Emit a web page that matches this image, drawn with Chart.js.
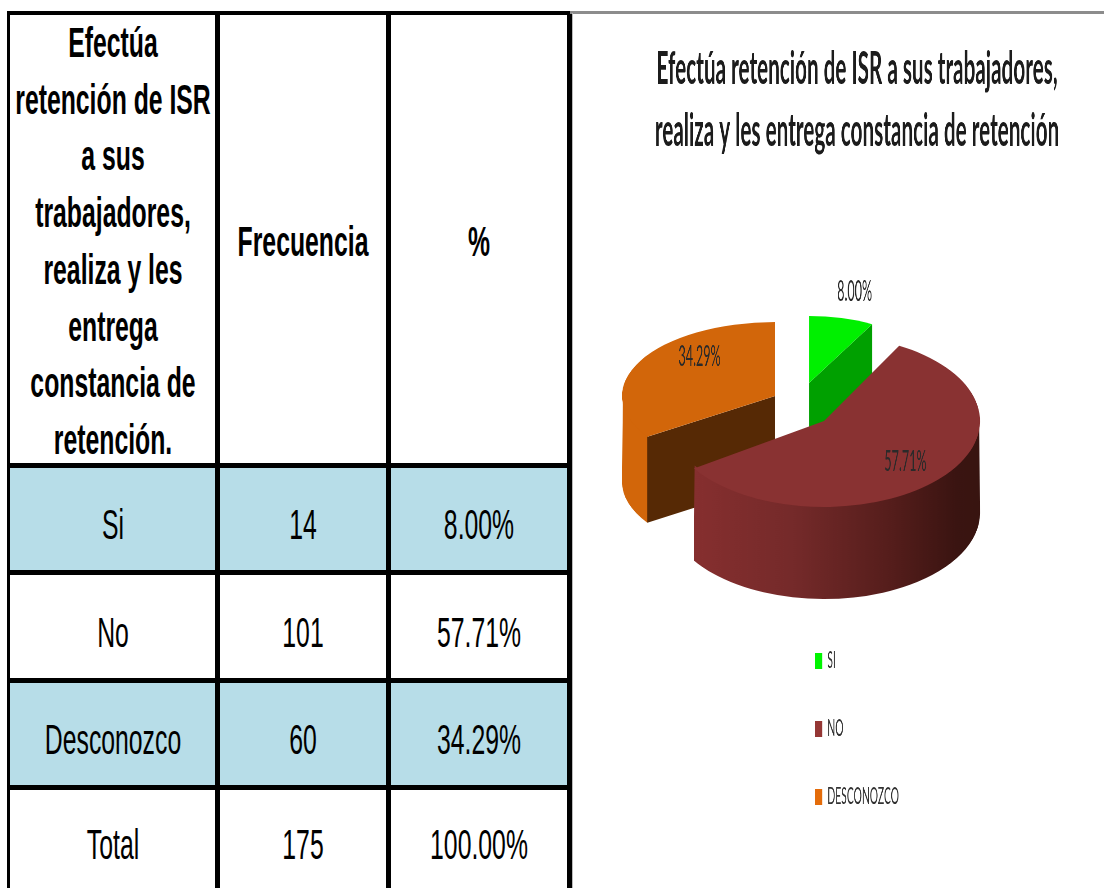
<!DOCTYPE html>
<html lang="es">
<head>
<meta charset="utf-8">
<script src="https://cdn.jsdelivr.net/npm/chart.js@4/dist/chart.umd.min.js"></script>
<style>
html,body{margin:0;padding:0;background:#fff;width:1104px;height:888px;overflow:hidden}
#tbl{position:absolute;left:7px;top:11px;border-collapse:separate;border-spacing:0;table-layout:fixed;width:565px;font-family:"Liberation Sans",Arial,sans-serif;color:#000;font-size:42px}
#tbl td{box-sizing:border-box;position:relative;border-right:5px solid #000;border-bottom:5px solid #000;padding:0}
#tbl tr:first-child td{border-top:4px solid #000;font-weight:bold}
#tbl td:first-child{border-left:3px solid #000}
#tbl tr:last-child td{border-bottom:0}
#tbl tr.blue td{background:#b7dde8}
.t{position:absolute;left:50%;top:50%;white-space:pre;text-align:center;transform:translate(-50%,-50%) scaleX(.59)}
tr.head .t{line-height:56.7px;margin-top:3px}
tr.body .t{margin-top:6px}
#rule{position:absolute;left:570px;top:11px;width:534px;height:3px;background:#8c8c8c}
#edge{position:absolute;left:572px;top:13px;width:1px;height:875px;background:#bbb}
#wrap{position:absolute;left:610px;top:0;width:1098px;height:888px;transform:scaleX(.45);transform-origin:0 0}
</style>
</head>
<body>
<table id="tbl"><colgroup><col style="width:213px"><col style="width:171px"><col style="width:181px"></colgroup><tbody id="tb"></tbody></table>
<div id="rule"></div><div id="edge"></div>
<div id="wrap"><canvas id="c" width="1098" height="888"></canvas></div>
<script>
// ---- data ----
const headerCells = ["Efectúa\nretención de ISR\na sus\ntrabajadores,\nrealiza y les\nentrega\nconstancia de\nretención.", "Frecuencia", "%"];
const tableLabels = ["Si", "No", "Desconozco", "Total"];
const tableFreq = [14, 101, 60, 175];
const tablePct = ["8.00%", "57.71%", "34.29%", "100.00%"];
const categories = ["SI", "NO", "DESCONOZCO"];
const frequencies = [14, 101, 60];
const pctLabels = ["8.00%", "57.71%", "34.29%"];
const chartTitle = ["Efectúa retención de ISR a sus trabajadores,", "realiza y les entrega constancia de retención"];

// ---- styles ----
const topColors = ["#00f000", "#893232", "#d2660a"];
const legendColors = ["#00f500", "#953735", "#e46c0a"];
const SX = 0.45, LEFT = 610;
const lx = x => (x - LEFT) / SX;
const slices3d = [
  {cx:809, cy:383, rx:131, ry:67, depth:90, face:"#00a000", labelF:1.4, labelDy:0},
  {cx:824, cy:421, rx:156, ry:86, depth:92, wall:true, labelF:.71, labelDy:0},
  {cx:775, cy:396, rx:153, ry:74, depth:86, face:"#562905", wallColor:"#d2660a", wall:true, labelF:.56, labelDy:-19}
];
const drawOrder = [2, 0, 1];

// ---- table ----
const tb = document.getElementById("tb");
function addRow(cells, cls, h){
  const tr = document.createElement("tr");
  tr.className = cls; tr.style.height = h + "px";
  cells.forEach(c => {
    const td = document.createElement("td");
    td.style.height = h + "px";
    const d = document.createElement("div");
    d.className = "t"; d.textContent = c;
    td.appendChild(d); tr.appendChild(td);
  });
  tb.appendChild(tr);
}
addRow(headerCells, "head", 457);
const rowH = [107, 108, 107, 98];
tableLabels.forEach((l, i) => addRow([l, String(tableFreq[i]), tablePct[i]], "body" + (i % 2 === 0 && i < 3 ? " blue" : ""), rowH[i]));

// ---- 3D pie plugin ----
const pie3d = {
  id: "pie3d",
  beforeDraw(chart){
    const lg = chart.legend;
    const pad = 45;
    lg.left = lx(815) - pad; lg.top = 604.5; lg.right = lg.left + 600; lg.bottom = 1400;
  },
  beforeDatasetsDraw(chart){
    const ctx = chart.ctx, arcs = chart.getDatasetMeta(0).data;
    drawOrder.forEach(i => {
      const a = arcs[i], s = slices3d[i];
      const cx = lx(s.cx), rx = s.rx / SX, cy = s.cy, ry = s.ry, d = s.depth;
      const p = t => [cx + rx * Math.cos(t), cy + ry * Math.sin(t)];
      // outer curved wall (only the visible, lower half)
      if (s.wall){
        let a0 = Math.max(a.startAngle, 0), a1 = Math.min(a.endAngle, Math.PI);
        if (i === 2){ a0 = a.startAngle; a1 = Math.PI; }
        ctx.save();
        ctx.beginPath();
        // upper edge tucked slightly under the top surface so no seam shows
        ctx.ellipse(cx, cy - 3, rx - 2, ry, 0, a0, a1);
        ctx.ellipse(cx, cy + d, rx, ry, 0, a1, a0, true);
        ctx.closePath();
        if (s.wallColor) ctx.fillStyle = s.wallColor;
        else {
          const g = ctx.createLinearGradient(lx(692), 0, lx(980), 0);
          g.addColorStop(0, "#862f2f"); g.addColorStop(.35, "#752a2a");
          g.addColorStop(.7, "#541d1b"); g.addColorStop(.92, "#3a1411"); g.addColorStop(1, "#381410");
          ctx.fillStyle = g;
        }
        ctx.fill();
        ctx.restore();
      }
      // flat inner face
      if (s.face){
        const edge = i === 0 ? a.endAngle : a.startAngle;
        const q = p(edge);
        ctx.save();
        ctx.fillStyle = s.face;
        ctx.beginPath();
        ctx.moveTo(cx, cy); ctx.lineTo(q[0], q[1]);
        ctx.lineTo(q[0], q[1] + d); ctx.lineTo(cx, cy + d);
        ctx.closePath(); ctx.fill();
        ctx.restore();
      }
      // top surface: the library's own arc element, projected
      const k = a.outerRadius;
      ctx.save();
      ctx.translate(cx, cy);
      ctx.scale(rx / k, ry / k);
      ctx.translate(-a.x, -a.y);
      a.draw(ctx);
      ctx.restore();
    });
    // data labels
    ctx.save();
    ctx.font = "28px Lato";
    ctx.fillStyle = "#2a2a2a";
    ctx.textAlign = "center"; ctx.textBaseline = "middle";
    arcs.forEach((a, i) => {
      const s = slices3d[i], m = (a.startAngle + a.endAngle) / 2;
      ctx.fillText(pctLabels[i],
        lx(s.cx) + s.rx / SX * Math.cos(m) * s.labelF,
        s.cy + s.ry * Math.sin(m) * s.labelF + s.labelDy);
    });
    ctx.restore();
    return false;
  }
};

new Chart(document.getElementById("c"), {
  type: "pie",
  data: { labels: categories, datasets: [{ data: frequencies, backgroundColor: topColors, borderWidth: 0 }] },
  options: {
    responsive: false, animation: false,
    plugins: {
      tooltip: { enabled: false },
      title: {
        display: true, text: chartTitle, color: "#1c1c1c",
        font: { family: "Lato", size: 46, weight: "bold", lineHeight: 62/46 },
        padding: { top: 38, bottom: 10 }
      },
      legend: {
        position: "left", align: "start",
        labels: {
          font: { family: "Lato", size: 23 }, color: "#333",
          boxWidth: 16, boxHeight: 16, padding: 45,
          generateLabels: () => categories.map((t, i) => ({ text: t, fillStyle: legendColors[i], strokeStyle: legendColors[i], lineWidth: 0, fontColor: "#333", index: i }))
        }
      }
    }
  },
  plugins: [pie3d]
});
</script>
</body>
</html>
